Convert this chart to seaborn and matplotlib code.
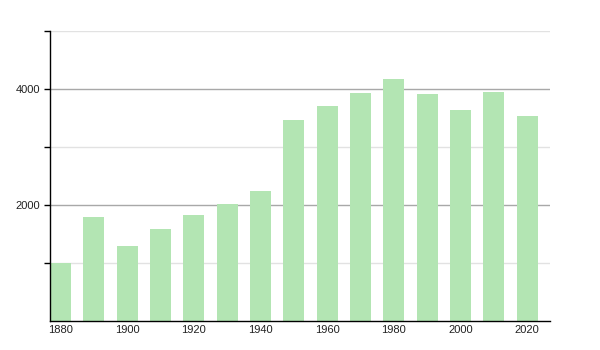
import matplotlib
matplotlib.use("Agg")
import matplotlib.pyplot as plt
import seaborn as sns
import pandas as pd
from matplotlib.ticker import FixedLocator

years = [1880, 1890, 1900, 1910, 1920, 1930, 1940, 1950, 1960, 1970, 1980, 1990, 2000, 2010, 2020]
population = [1005, 1790, 1290, 1585, 1825, 2015, 2240, 3465, 3705, 3930, 4170, 3910, 3635, 3945, 3535]
tick_years = [1880, 1900, 1920, 1940, 1960, 1980, 2000, 2020]
y_major = [2000, 4000]
y_minor = [1000, 3000, 5000]

df = pd.DataFrame({"year": years, "pop": population})

sns.set_style("white")
plt.rcParams['font.family'] = ['Liberation Sans', 'DejaVu Sans']

fig = plt.figure(figsize=(6, 3.5), dpi=100)
ax = fig.add_axes([50/600, 1-321/350, 500/600, 290/350])

sns.barplot(data=df, x="year", y="pop", native_scale=True, width=0.63,
            color="#b3e5b3", saturation=1, linewidth=0, edgecolor="none", ax=ax)
for p in ax.patches:
    p.set_zorder(3)

ax.set_xlim(1876.85, 2026.85)
ax.set_ylim(0, 5000)
ax.set_xlabel("")
ax.set_ylabel("")
ax.xaxis.set_major_locator(FixedLocator(tick_years))
ax.set_xticklabels([str(y) for y in tick_years])
ax.yaxis.set_major_locator(FixedLocator(y_major))
ax.yaxis.set_minor_locator(FixedLocator(y_minor))
ax.set_yticklabels([str(v) for v in y_major])

for v in y_major:
    ax.axhline(v, color="#a8a8a8", lw=1, zorder=1)
for v in y_minor:
    ax.axhline(v, color="#e2e2e2", lw=1, zorder=1)

for s in ["top", "right"]:
    ax.spines[s].set_visible(False)
for s in ["left", "bottom"]:
    ax.spines[s].set_color("black")
    ax.spines[s].set_linewidth(1)
    ax.spines[s].set_zorder(4)

ax.tick_params(axis="y", which="both", left=True, length=4, width=1, color="black",
               labelsize=8, pad=3, labelcolor="#222222")
ax.tick_params(axis="x", which="both", bottom=False, length=0, labelsize=8, pad=3,
               labelcolor="#222222")

fig.savefig("out.png", dpi=100)
